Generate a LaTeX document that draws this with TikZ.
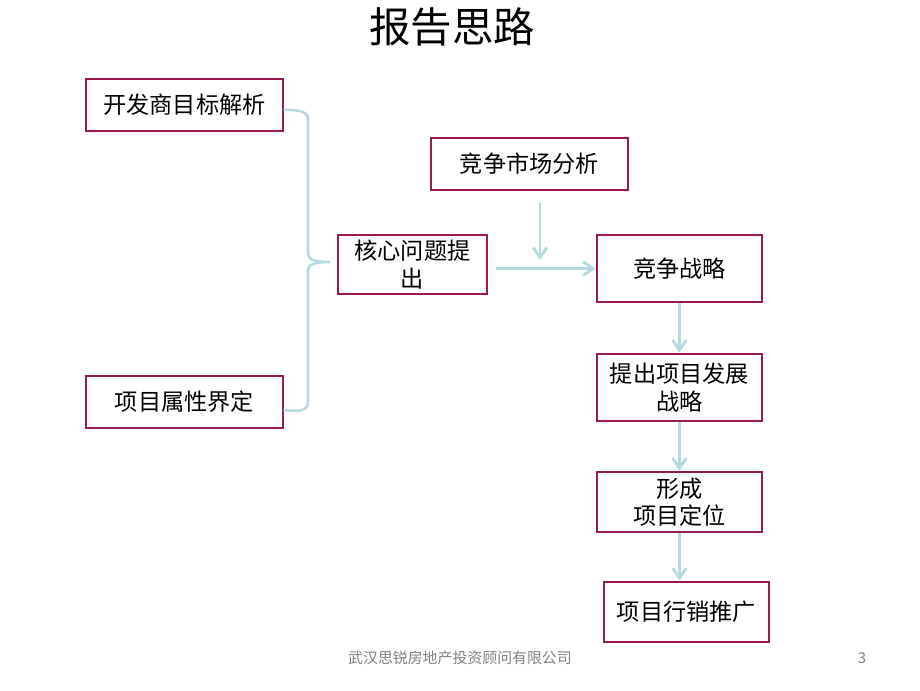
\documentclass[tikz,border=0pt]{standalone}
\usepackage{fontspec}
\setmainfont{Noto Sans CJK SC}
\usepackage{xcolor}
\usepackage{tikz}
\usetikzlibrary{arrows.meta, positioning}
\definecolor{boxline}{RGB}{152,26,80}
\definecolor{flowline}{RGB}{180,218,221}
\definecolor{footgray}{RGB}{128,128,128}
\tikzstyle{box} = [rectangle, draw=boxline, line width=2pt, align=center, minimum height=1.3cm, inner sep=2pt, font=\fontsize{16.5}{19.5}\selectfont]
\tikzstyle{flow} = [-{Straight Barb[length=2.5mm,width=3.4mm]}, draw=flowline, line width=2pt]

\begin{document}
\begin{tikzpicture}
                \useasboundingbox (0,0) rectangle (23,-17.25);
                % title and footer
                \node (title) at (11.3,-0.68) {\fontsize{29.5}{33}\selectfont 报告思路};
                \node (firm) at (11.5,-16.45) {\color{footgray}\fontsize{10.6}{12}\selectfont 武汉思锐房地产投资顾问有限公司};
                \node (page) at (21.55,-16.45) {\color{footgray}\fontsize{10.6}{12}\selectfont 3};
                % left column
                \node (goal) at (4.6125,-2.625) [box, minimum width=4.925cm] {开发商目标解析};
                \node (attr) at (4.6125,-10.05) [box, minimum width=4.925cm] {项目属性界定};
                \node (core) at (10.3125,-6.6125) [box, minimum width=3.725cm, minimum height=1.475cm] {核心问题提\\出};
                \node (market) at (13.2375,-4.1) [box, minimum width=4.925cm] {竞争市场分析};
                % right column
                \node (strat) at (16.9875,-6.7125) [box, minimum width=4.125cm, minimum height=1.675cm] {竞争战略};
                \node (plan) at (16.9875,-9.6875) [box, minimum width=4.125cm, minimum height=1.675cm] {提出项目发展\\战略};
                \node (posit) at (16.9875,-12.55) [box, minimum width=4.125cm, minimum height=1.5cm] {形成\\项目定位};
                \node (promo) at (17.1625,-15.3) [box, minimum width=4.125cm, minimum height=1.5cm] {项目行销推广};
                % brace
                \coordinate (tip) at (8.25,-6.55);
                \draw[flowline, line width=1.8pt, line cap=round]
                    ([yshift=-0.12cm]goal.east) .. controls (7.55,-2.75) and (7.7,-2.8) .. (7.7,-3.0)
                    -- (7.7,-6.35) .. controls (7.7,-6.5) and (7.9,-6.55) .. (tip)
                    .. controls (7.9,-6.55) and (7.7,-6.6) .. (7.7,-6.75)
                    -- (7.7,-10.05) .. controls (7.7,-10.25) and (7.55,-10.3) .. ([yshift=-0.2cm]attr.east);
                % arrows
                \coordinate (join) at (13.5,-6.5);
                \draw[flow, shorten <=0.18cm] (core.east |- strat.west) -- (strat.west);
                \draw[flow, shorten <=0.3cm] (market.south -| join) -- (join);
                \draw[flow] (strat.south) -- (plan.north);
                \draw[flow] (plan.south) -- (posit.north);
                \draw[flow] (posit.south) -- (posit.south |- promo.north);
            \end{tikzpicture}
\end{document}
